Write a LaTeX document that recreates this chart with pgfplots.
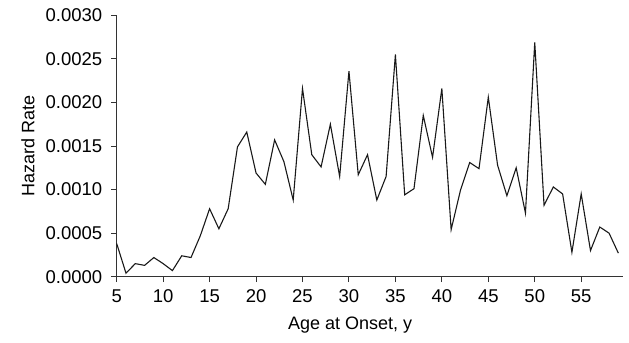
\documentclass[border=0pt]{standalone}
\usepackage{pgfplots}
\pgfplotsset{compat=1.18}
\usepackage{fontspec}
\setmainfont{Liberation Sans}
\begin{document}
\fontsize{17.5bp}{21bp}\selectfont
\begin{tikzpicture}
\begin{axis}[
  scale only axis,
  width=506.3bp, height=261.4bp,
  at={(0,0)}, anchor=south west,
  xmin=5, xmax=59.5, ymin=0, ymax=0.003,
  axis x line*=bottom, axis y line*=left,
  axis line style={line width=1bp, black!80},
  tick style={line width=1bp, black!80},
  tick align=outside,
  major tick length=5.5bp,
  xtick={5,10,...,55},
  ytick={0,0.0005,...,0.0030},
  scaled y ticks=false,
  yticklabel style={/pgf/number format/fixed, /pgf/number format/fixed zerofill, /pgf/number format/precision=4, xshift=-3bp},
  xticklabel style={yshift=-1.5bp},
  /pgf/number format/assume math mode=true,
  ticklabel style={font=\fontsize{18.5bp}{22bp}\selectfont},
  xlabel={Age at Onset, y},
  ylabel={Hazard Rate},
  xlabel style={at={(axis description cs:0.461,-0.154)}, anchor=north, inner sep=0pt, font=\fontsize{18bp}{21bp}\selectfont},
  ylabel style={at={(axis description cs:-0.1627,0.5)}, anchor=base, rotate=0, inner sep=0pt, font=\fontsize{18bp}{21bp}\selectfont},
  clip=false,
]
\addplot[black!90, line width=1.1bp] coordinates {
(5,0.00038) (6,0.00004) (7,0.00015) (8,0.00013) (9,0.00022) (10,0.00015)
(11,0.00007) (12,0.00024) (13,0.00022) (14,0.00047) (15,0.00078) (16,0.00055)
(17,0.00078) (18,0.00149) (19,0.00166) (20,0.00119) (21,0.00106) (22,0.00157)
(23,0.00132) (24,0.00088) (25,0.00216) (26,0.00140) (27,0.00126) (28,0.00175)
(29,0.00115) (30,0.00236) (31,0.00117) (32,0.00140) (33,0.00088) (34,0.00115)
(35,0.00255) (36,0.00094) (37,0.00101) (38,0.00185) (39,0.00137) (40,0.00216)
(41,0.00054) (42,0.00099) (43,0.00131) (44,0.00124) (45,0.00206) (46,0.00128)
(47,0.00093) (48,0.00125) (49,0.00073) (50,0.00269) (51,0.00082) (52,0.00103)
(53,0.00095) (54,0.00028) (55,0.00095) (56,0.00030) (57,0.00057) (58,0.00050)
(59,0.00027)
};
\end{axis}
\pgfresetboundingbox
\path (-116.7bp,-66.3bp) rectangle (512.3bp,276.7bp);
\end{tikzpicture}
\end{document}
